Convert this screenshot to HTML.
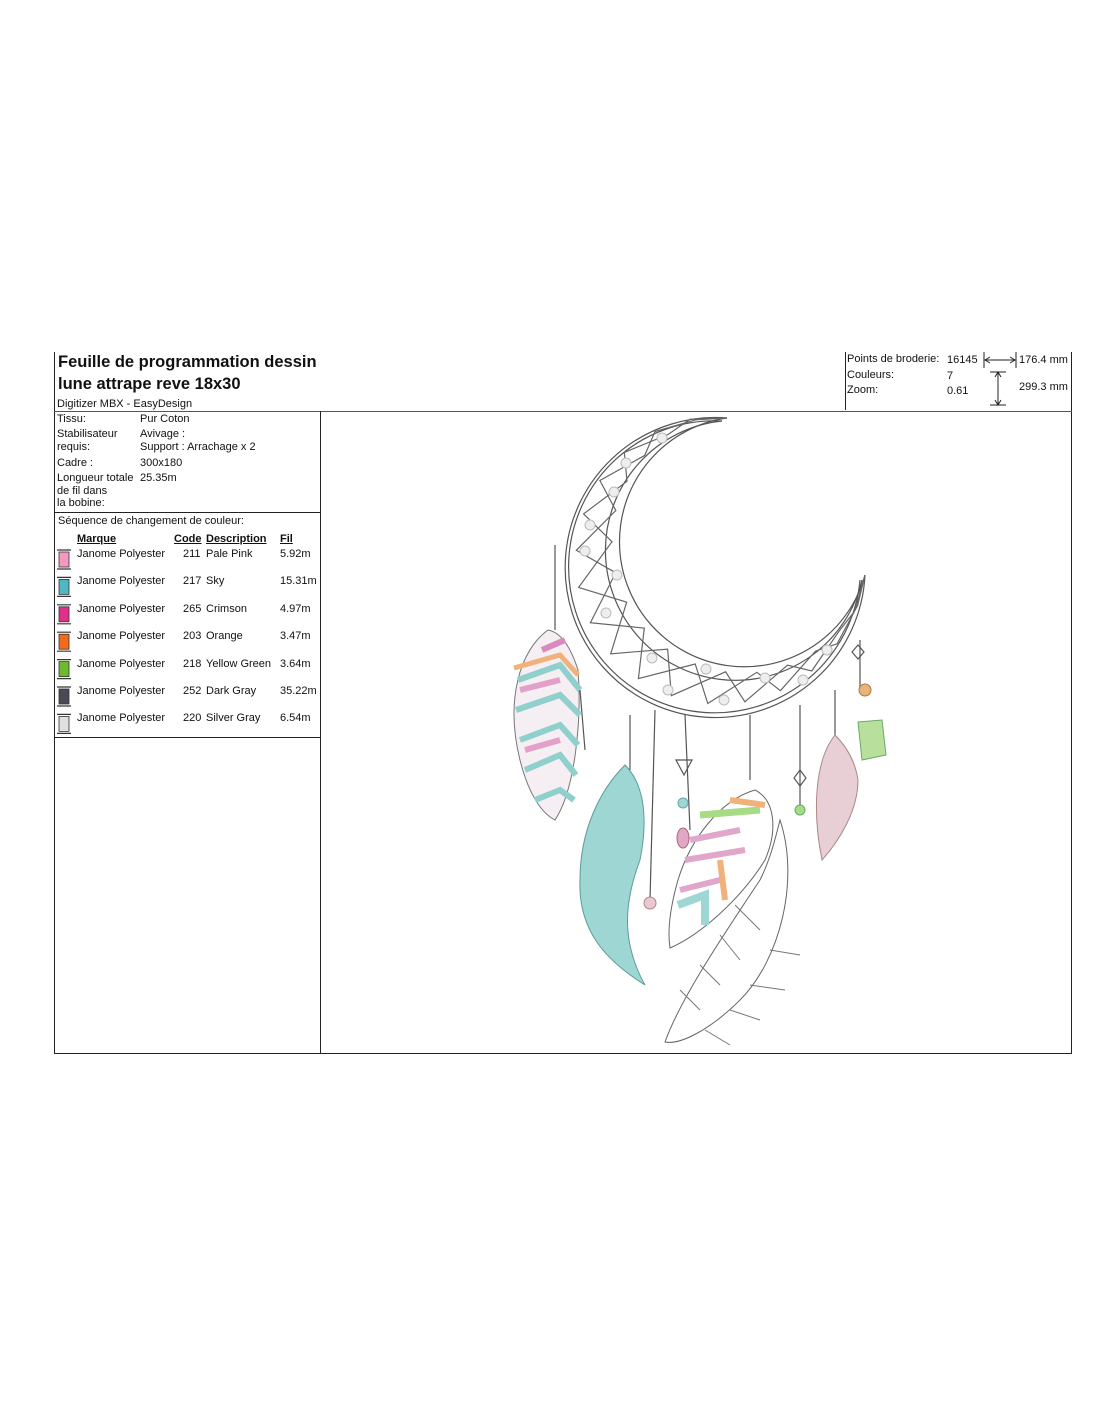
<!DOCTYPE html>
<html><head><meta charset="utf-8"><style>
body{margin:0;background:#fff;width:1100px;height:1422px;position:relative;font-family:"Liberation Sans",Arial,sans-serif;color:#111;overflow:hidden}
.a{position:absolute;white-space:nowrap}
.s{font-size:11px}
.ln{position:absolute;background:#222}
</style></head><body>
<div class="ln" style="left:54px;top:352px;width:1px;height:702px"></div>
<div class="ln" style="left:845px;top:352px;width:1px;height:58px"></div>
<div class="ln" style="left:1071px;top:352px;width:1px;height:702px"></div>
<div class="ln" style="left:54px;top:411px;width:1018px;height:1px;background:#555"></div>
<div class="ln" style="left:320px;top:411px;width:1px;height:643px"></div>
<div class="ln" style="left:54px;top:512px;width:266px;height:1px"></div>
<div class="ln" style="left:54px;top:737px;width:266px;height:1px"></div>
<div class="ln" style="left:54px;top:1053px;width:1018px;height:1px"></div>

<div class="a" style="left:58px;top:353px;font-size:16.5px;font-weight:bold">Feuille de programmation dessin</div>
<div class="a" style="left:58px;top:375px;font-size:16.5px;font-weight:bold">lune attrape reve 18x30</div>
<div class="a s" style="left:57px;top:398px">Digitizer MBX - EasyDesign</div>

<div class="a s" style="left:57px;top:413px">Tissu:</div>
<div class="a s" style="left:140px;top:413px">Pur Coton</div>
<div class="a s" style="left:57px;top:428px">Stabilisateur</div>
<div class="a s" style="left:140px;top:428px">Avivage :</div>
<div class="a s" style="left:57px;top:441px">requis:</div>
<div class="a s" style="left:140px;top:441px">Support : Arrachage x 2</div>
<div class="a s" style="left:57px;top:457px">Cadre :</div>
<div class="a s" style="left:140px;top:457px">300x180</div>
<div class="a s" style="left:57px;top:472px">Longueur totale</div>
<div class="a s" style="left:140px;top:472px">25.35m</div>
<div class="a s" style="left:57px;top:485px">de fil dans</div>
<div class="a s" style="left:57px;top:497px">la bobine:</div>

<div class="a s" style="left:58px;top:515px">Séquence de changement de couleur:</div>
<div class="a s" style="left:77px;top:533px;font-weight:bold;text-decoration:underline">Marque</div>
<div class="a s" style="left:174px;top:533px;font-weight:bold;text-decoration:underline">Code</div>
<div class="a s" style="left:206px;top:533px;font-weight:bold;text-decoration:underline">Description</div>
<div class="a s" style="left:280px;top:533px;font-weight:bold;text-decoration:underline">Fil</div>

<div id="rows"></div>

<div class="a s" style="left:847px;top:353px">Points de broderie:</div>
<div class="a s" style="left:947px;top:354px">16145</div>
<div class="a s" style="left:1019px;top:354px">176.4 mm</div>
<div class="a s" style="left:847px;top:369px">Couleurs:</div>
<div class="a s" style="left:947px;top:370px">7</div>
<div class="a s" style="left:847px;top:384px">Zoom:</div>
<div class="a s" style="left:947px;top:385px">0.61</div>
<div class="a s" style="left:1019px;top:381px">299.3 mm</div>

<svg style="position:absolute;left:0;top:0" width="1100" height="1422">
 <g stroke="#222" stroke-width="1" fill="none">
  <line x1="984" y1="352" x2="984" y2="368"/><line x1="1016" y1="352" x2="1016" y2="368"/>
  <line x1="985" y1="360" x2="1015" y2="360"/>
  <path d="M990 357 L985 360 L990 363 M1010 357 L1015 360 L1010 363"/>
  <line x1="990" y1="372" x2="1006" y2="372"/><line x1="990" y1="405" x2="1006" y2="405"/>
  <line x1="998" y1="372" x2="998" y2="405"/>
  <path d="M995 377 L998 372 L1001 377 M995 400 L998 405 L1001 400"/>
 </g>
 <g id="spools"></g>
 <!-- dreamcatcher -->
 <g fill="none" stroke="#555" stroke-width="1.2">
  <path d="M727 418 A150 150 0 1 0 865 575"/>
  <path d="M722 421 A146 146 0 1 0 860 580"/>
  <path d="M865 575 A125 125 0 1 1 727 418"/>
  <path d="M862 580 A130 130 0 1 1 722 421"/>
  <path id="lace" stroke="#666"/>
  <path d="M555 545 L555 630 M630 715 L630 770 M685 715 L690 830 M750 715 L750 780 M800 705 L800 810 M860 640 L860 690 M835 690 L835 740 M655 710 L650 900 M580 690 L585 750"/>
  <path d="M676 760 L692 760 L684 775 Z M800 770 L806 778 L800 786 L794 778Z M858 645 L864 652 L858 659 L852 652Z M616 780 L630 780 L623 795 Z"/>
 </g>
 <g id="beads" fill="#eee" stroke="#bbb"></g>
 <!-- left feather -->
 <path d="M548 630 C520 650 505 700 520 760 C530 800 545 815 555 820 C575 790 582 720 578 670 C570 645 560 632 548 630Z" fill="#f5eef2" stroke="#777"/>
 <path d="M518 680 L560 665 L580 690 M516 710 L560 695 L580 715 M520 740 L560 725 L578 745 M525 770 L560 755 L576 775 M535 800 L560 790 L574 800" stroke="#8fd0cc" stroke-width="6" fill="none"/>
 <path d="M520 690 L560 680 M525 750 L560 740" stroke="#e3a0c9" stroke-width="6" fill="none"/>
 <path d="M514 668 L560 655 L578 675" stroke="#f0b27a" stroke-width="5" fill="none"/>
 <path d="M542 650 L565 640" stroke="#d989bd" stroke-width="6"/>
 <!-- teal feather -->
 <path d="M625 765 C600 790 580 830 580 880 C578 930 605 960 645 985 C620 940 625 900 640 860 C648 820 645 785 625 765Z" fill="#9ed6d3" stroke="#5a9c99"/>
 <!-- pink feather -->
 <path d="M835 735 C815 760 812 810 822 860 C840 840 858 810 858 780 C855 760 845 745 835 735Z" fill="#e7cfd5" stroke="#a88"/>
 <path d="M858 722 L882 720 L886 755 L862 760Z" fill="#b8e09c" stroke="#6a6"/>
 <circle cx="865" cy="690" r="6" fill="#e8b47c" stroke="#a74"/>
 <circle cx="800" cy="810" r="5" fill="#a6dc87" stroke="#6a6"/>
 <circle cx="683" cy="803" r="5" fill="#9ed6d3" stroke="#6aa"/>
 <ellipse cx="683" cy="838" rx="6" ry="10" fill="#e0a8c6" stroke="#a67"/>
 <circle cx="650" cy="903" r="6" fill="#ecc6d3" stroke="#a88"/>
 <!-- white feather -->
 <path d="M780 820 C800 880 780 960 740 1000 C710 1030 680 1045 665 1042 C680 1000 720 940 760 880 C770 860 775 840 780 820Z" fill="#fff" stroke="#666"/>
 <path d="M700 1010 L680 990 M720 985 L700 965 M740 960 L720 935 M760 930 L735 905 M705 1030 L730 1045 M730 1010 L760 1020 M750 985 L785 990 M770 950 L800 955" stroke="#777" fill="none"/>
 <!-- multicolor feather -->
 <path d="M755 790 C720 800 690 840 678 880 C668 915 668 935 670 948 C700 935 740 900 765 860 C778 830 775 800 755 790Z" fill="#fff" stroke="#666"/>
 <path d="M690 840 L740 830 M685 860 L745 850 M680 890 L720 880" stroke="#e1a6cb" stroke-width="6" fill="none"/>
 <path d="M700 815 L760 810" stroke="#a8db86" stroke-width="7"/>
 <path d="M730 800 L765 805" stroke="#f0b27a" stroke-width="6"/>
 <path d="M678 905 L705 895 L705 925" stroke="#9ed6d3" stroke-width="8" fill="none"/>
 <path d="M720 860 L725 900" stroke="#f0b27a" stroke-width="6"/>
</svg>
<script>
const d=[["#f49ac1","211","Pale Pink","5.92m"],["#4fb8c4","217","Sky","15.31m"],["#e0318a","265","Crimson","4.97m"],["#f26a1b","203","Orange","3.47m"],["#6cbb2e","218","Yellow Green","3.64m"],["#4a4a55","252","Dark Gray","35.22m"],["#e0e0e0","220","Silver Gray","6.54m"]];
let h="",s="";
d.forEach((r,i)=>{const y=548+i*27.4;
h+=`<div class="a s" style="left:77px;top:${y}px">Janome Polyester</div><div class="a s" style="left:183px;top:${y}px">${r[1]}</div><div class="a s" style="left:206px;top:${y}px">${r[2]}</div><div class="a s" style="left:280px;top:${y}px">${r[3]}</div>`;
const t=y+1;
s+=`<rect x="59" y="${t+3}" width="10" height="15" fill="${r[0]}" stroke="#333" stroke-width="0.8"/><path d="M57 ${t+1}h14M57 ${t+20}h14" stroke="#333" stroke-width="1.2"/>`;});
document.getElementById("rows").outerHTML=h;
document.getElementById("spools").innerHTML=s;
function P(cx,cy,r,a){return [cx+r*Math.cos(a),cy+r*Math.sin(a)];}
const a0=Math.atan2(418-560,727-720), a1=Math.atan2(575-560,865-720)-2*Math.PI;
const b0=Math.atan2(418-542,727-743), b1=Math.atan2(575-542,865-743)-2*Math.PI;
function lace(phase){let p=[],N=18;
 for(let i=1;i<N;i++){const f=i/N;
  const ao=a0+f*(a1-a0), ai=b0+f*(b1-b0);
  p.push((i+phase)%2?P(720,560,144,ao):P(743,542,131,ai));}
 return "M727 418 "+p.map(q=>"L"+q[0].toFixed(1)+" "+q[1].toFixed(1)).join(" ")+" L865 575";}
document.getElementById("lace").setAttribute("d",lace(0)+" "+lace(1));
let bd="";[[662,438],[626,463],[614,492],[590,525],[617,575],[606,613],[652,658],[706,669],[668,690],[724,700],[765,678],[803,680],[827,650],[585,551]].forEach(p=>bd+=`<circle cx="${p[0]}" cy="${p[1]}" r="5"/>`);
document.getElementById("beads").innerHTML=bd;
</script>
</body></html>
